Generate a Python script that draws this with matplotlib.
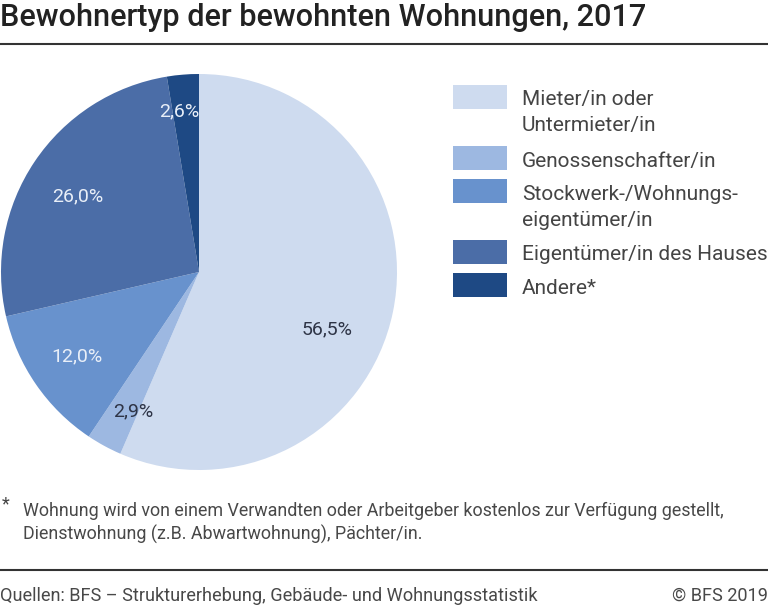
import numpy as np
import matplotlib
matplotlib.use("Agg")
import matplotlib.pyplot as plt
from matplotlib.patches import Rectangle

plt.rcParams['font.family'] = ['Roboto', 'DejaVu Sans']

# data
categories = ["Mieter/in oder\nUntermieter/in", "Genossenschafter/in",
              "Stockwerk-/Wohnungs-\neigentümer/in", "Eigentümer/in des Hauses",
              "Andere*"]
shares = [56.5, 2.9, 12.0, 26.0, 2.6]
pct_labels = ["56,5%", "2,9%", "12,0%", "26,0%", "2,6%"]

colors = ["#cedbef", "#9db8e1", "#6892cd", "#4b6da7", "#1e4984"]
label_colors = ["#2e3446", "#2e3446", "#e9eff8", "#e9eff8", "#e9eff8"]
# label placement: radial fraction and clockwise shift in degrees
label_dist = [0.71, 0.78, 0.75, 0.72, 0.82]
label_shift = [12.5, -3.4, 0.0, -2.0, -2.4]

W, H = 768, 607
fig = plt.figure(figsize=(W / 100, H / 100), dpi=100)

# pie, centre at (199, 272) px, radius 198 px
cx, cy, r = 199, 272, 198
ax = fig.add_axes([(cx - r) / W, (H - cy - r) / H, 2 * r / W, 2 * r / H])
wedges, _ = ax.pie(shares, colors=colors, startangle=90, counterclock=False,
                   radius=1, wedgeprops=dict(linewidth=0))
ax.set_xlim(-1, 1)
ax.set_ylim(-1, 1)
ax.set_aspect('equal')
ax.axis('off')

for w, txt, c, d, s in zip(wedges, pct_labels, label_colors, label_dist, label_shift):
    th = np.deg2rad((w.theta1 + w.theta2) / 2 - s)
    ax.text(d * np.cos(th), d * np.sin(th), txt, ha='center', va='center',
            fontsize=14, color=c)

# overlay in pixel coordinates for title, legend and notes
ov = fig.add_axes([0, 0, 1, 1], zorder=-1)
ov.set_xlim(0, W)
ov.set_ylim(H, 0)
ov.axis('off')

ov.text(0, 17, "Bewohnertyp der bewohnten Wohnungen, 2017", ha='left', va='center',
        fontsize=22.1, fontweight='medium', color='#222222')
ov.plot([0, W], [43.5, 43.5], color='#333333', lw=1.5, solid_capstyle='butt')

y0 = 85
for cat, col in zip(categories, colors):
    ov.add_patch(Rectangle((453, y0), 54, 24, facecolor=col, edgecolor='none'))
    lines = cat.split("\n")
    for k, line in enumerate(lines):
        ov.text(522, y0 + 15 + 26 * k, line, ha='left', va='center',
                fontsize=15, color='#444444')
    y0 += 28 * len(lines) + 5

ov.text(2, 504, "*", ha='left', va='center', fontsize=13, color='#444444')
ov.text(23, 511, "Wohnung wird von einem Verwandten oder Arbeitgeber kostenlos zur Verfügung gestellt,",
        ha='left', va='center', fontsize=12.9, color='#484848')
ov.text(23, 534, "Dienstwohnung (z.B. Abwartwohnung), Pächter/in.",
        ha='left', va='center', fontsize=12.9, color='#484848')

ov.plot([0, W], [570, 570], color='#333333', lw=1.5, solid_capstyle='butt')
ov.text(0, 596, "Quellen: BFS – Strukturerhebung, Gebäude- und Wohnungsstatistik",
        ha='left', va='center', fontsize=13.1, color='#484848')
ov.text(W, 596, "© BFS 2019", ha='right', va='center', fontsize=13.1,
        color='#484848')

fig.savefig("out.png", dpi=100)
